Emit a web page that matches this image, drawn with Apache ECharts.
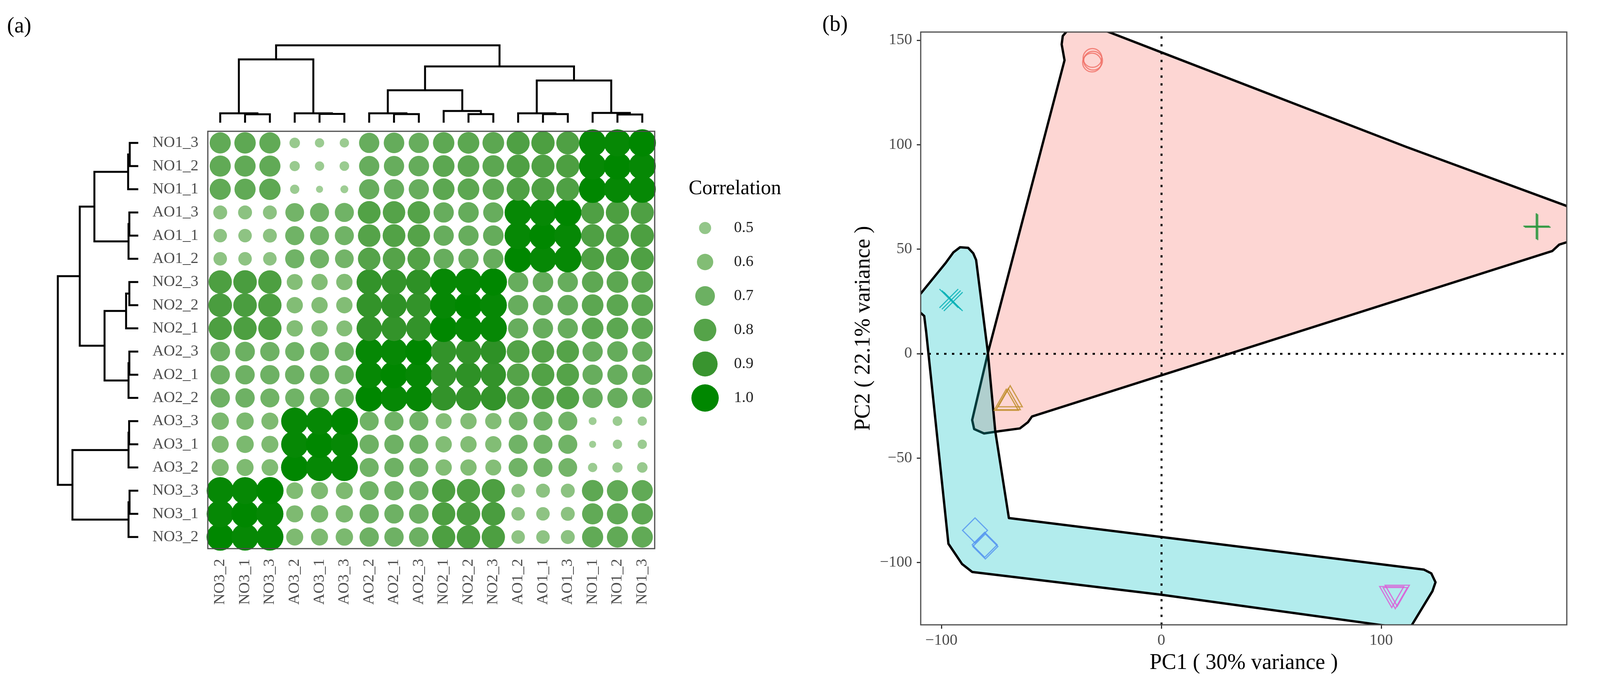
<!DOCTYPE html>
<html>
<head>
<meta charset="utf-8">
<script src="https://cdn.jsdelivr.net/npm/echarts/dist/echarts.min.js"></script>
<style>
html, body { margin: 0; padding: 0; background: #fff; }
#main { width: 4302px; height: 1753px; }
</style>
</head>
<body>
<div id="main"></div>
<script>
var FONT = '"Liberation Serif", "DejaVu Serif", serif';

// sample order: left->right on the x axis, bottom->top on the y axis
var samples = ['NO3_2','NO3_1','NO3_3','AO3_2','AO3_1','AO3_3','AO2_2','AO2_1','AO2_3',
               'NO2_1','NO2_2','NO2_3','AO1_2','AO1_1','AO1_3','NO1_1','NO1_2','NO1_3'];

// correlation matrix, rows/cols in the order of samples
var corr = [
  [1.00,0.99,0.99,0.62,0.62,0.63,0.69,0.69,0.70,0.83,0.84,0.83,0.53,0.53,0.54,0.75,0.75,0.75],
  [0.99,1.00,0.99,0.62,0.63,0.63,0.69,0.69,0.70,0.83,0.84,0.84,0.53,0.53,0.54,0.75,0.75,0.76],
  [0.99,0.99,1.00,0.61,0.62,0.62,0.68,0.69,0.69,0.83,0.83,0.83,0.53,0.54,0.54,0.76,0.75,0.75],
  [0.62,0.62,0.61,1.00,0.99,0.99,0.68,0.69,0.68,0.60,0.60,0.59,0.68,0.68,0.67,0.45,0.465,0.47],
  [0.62,0.63,0.62,0.99,1.00,0.99,0.69,0.69,0.68,0.60,0.60,0.60,0.68,0.68,0.68,0.42,0.45,0.45],
  [0.63,0.63,0.62,0.99,0.99,1.00,0.68,0.68,0.68,0.59,0.60,0.60,0.67,0.68,0.68,0.43,0.455,0.45],
  [0.69,0.69,0.68,0.68,0.69,0.68,1.00,0.99,0.99,0.91,0.91,0.91,0.80,0.80,0.81,0.72,0.72,0.72],
  [0.69,0.69,0.69,0.69,0.69,0.68,0.99,1.00,0.99,0.91,0.92,0.91,0.80,0.81,0.80,0.72,0.72,0.73],
  [0.70,0.70,0.69,0.68,0.68,0.68,0.99,0.99,1.00,0.91,0.91,0.92,0.81,0.80,0.80,0.72,0.73,0.72],
  [0.83,0.83,0.83,0.60,0.60,0.59,0.91,0.91,0.91,1.00,0.99,0.99,0.72,0.72,0.72,0.77,0.77,0.76],
  [0.84,0.84,0.83,0.60,0.60,0.60,0.91,0.92,0.91,0.99,1.00,0.99,0.72,0.72,0.73,0.77,0.77,0.77],
  [0.83,0.84,0.83,0.59,0.60,0.60,0.91,0.91,0.92,0.99,0.99,1.00,0.72,0.73,0.72,0.76,0.77,0.77],
  [0.53,0.53,0.53,0.68,0.68,0.67,0.80,0.80,0.81,0.72,0.72,0.72,1.00,0.99,0.99,0.82,0.82,0.82],
  [0.53,0.53,0.54,0.68,0.68,0.68,0.80,0.81,0.80,0.72,0.72,0.73,0.99,1.00,0.99,0.82,0.82,0.83],
  [0.54,0.54,0.54,0.67,0.68,0.68,0.81,0.80,0.80,0.72,0.73,0.72,0.99,0.99,1.00,0.82,0.83,0.82],
  [0.75,0.75,0.76,0.45,0.42,0.43,0.72,0.72,0.72,0.77,0.77,0.76,0.82,0.82,0.82,1.00,0.99,0.99],
  [0.75,0.75,0.75,0.465,0.45,0.455,0.72,0.72,0.73,0.77,0.77,0.77,0.82,0.82,0.83,0.99,1.00,0.99],
  [0.75,0.76,0.75,0.47,0.45,0.45,0.72,0.73,0.72,0.76,0.77,0.77,0.82,0.83,0.82,0.99,0.99,1.00]
];

var legendValues = [0.5, 0.6, 0.7, 0.8, 0.9, 1.0];

// clustering tree, hclust style: negative = leaf (-(index+1)), positive = earlier merge (1-based)
var mergeLeft   = [-2, -1, -5, -4, -8, -7, -11, -10, -14, -13, -17, -16,   2,  6,  10,  14,  13];
var mergeRight  = [-3,  1, -6,  3, -9,  5, -12,   7, -15,   9, -18,  11,   4,  8,  12,  15,  16];
var mergeHeight = [21.5, 24, 22.5, 24, 22, 24, 22, 30, 22, 24, 21, 25, 162, 83, 108, 144, 198];

// PCA scores
var groups = ['AO1', 'AO2', 'AO3', 'NO1', 'NO2', 'NO3'];
var pcAO1 = [[-31.3, 141.5], [-31.0, 140.2], [-31.5, 139.3]];
var pcAO2 = [[-68.7, -20.4], [-70.5, -22.1], [-69.6, -21.8]];
var pcAO3 = [[170.5, 61.0], [171.2, 60.5], [170.8, 60.8]];
var pcNO1 = [[-95.5, 25.7], [-96.6, 26.4], [-94.6, 24.9]];
var pcNO2 = [[-84.7, -84.6], [-80.3, -91.5], [-80.0, -92.3]];
var pcNO3 = [[106.4, -117.0], [104.8, -116.5], [107.3, -115.9]];
var pcPoints = [pcAO1, pcAO2, pcAO3, pcNO1, pcNO2, pcNO3];

// group hulls (outline, data units)
var hullAO = [[-44.0,140.4],[-45.3,148.0],[-44.8,152.0],[-42.0,155.5],[-37.0,157.5],[-30.0,156.4],
  [0,144.2],[111.2,99.0],[184.0,70.8],[188.5,67.5],[191.0,62.0],[190.0,57.0],[186.5,54.0],
  [181.0,52.2],[177.8,49.1],[-58.8,-30.1],[-60.6,-32.8],[-64.3,-35.8],[-73.4,-37.1],
  [-80.6,-38.2],[-85.1,-36.1],[-86.0,-31.8],[-78.7,0.9]];
var hullNO = [[-91.5,50.9],[-87.8,50.6],[-85.5,48.0],[-84.2,44.8],[-78.9,0.9],[-75.5,-37.1],
  [-69.3,-78.7],[119.5,-103.4],[122.8,-105.2],[124.7,-109.4],[123.3,-113.7],[114.0,-129.8],
  [111.5,-132.0],[108.0,-131.6],[104.0,-130.5],[0,-115.4],[-86.0,-104.5],[-90.6,-100.7],
  [-96.8,-91.0],[-106.9,10.3],[-107.8,18.0],[-110.5,20.5],[-111.5,24.5],[-110.3,28.0],
  [-109.4,28.7],[-97.9,43.6],[-94.5,48.5]];

var pcXTicks = [-100, 0, 100];
var pcYTicks = [-100, -50, 0, 50, 100, 150];

// ---- styles ----
var corrStops  = [0.4, 0.5, 0.6, 0.7, 0.8, 0.9, 1.0];
var corrColors = ['#a3d099', '#93c689', '#82bd75', '#6cb062', '#55a349', '#39942f', '#008700'];
var groupColors = ['rgba(240,110,100,0.8)', 'rgba(190,140,40,0.8)', 'rgba(40,150,60,0.8)',
                   'rgba(0,175,180,0.8)', 'rgba(80,145,240,0.8)', 'rgba(220,90,215,0.8)'];
var groupSymbols = ['circle', 'triangle', 'path://M0,50L100,50M50,0L50,100',
                    'path://M0,0L100,100M100,0L0,100', 'diamond', 'triangle'];
var groupSizes = [48, [62, 54], 66, 48, 64, [62, 54]];
var groupRotate = [0, 0, 0, 0, 0, 180];
var aoFill = 'rgba(248,118,109,0.3)';
var noFill = 'rgba(0,191,196,0.3)';

function hex2rgb(h) {
  return [parseInt(h.substr(1, 2), 16), parseInt(h.substr(3, 2), 16), parseInt(h.substr(5, 2), 16)];
}
function corrColor(v) {
  var i = 0;
  while (i < corrStops.length - 2 && v > corrStops[i + 1]) i++;
  var t = (v - corrStops[i]) / (corrStops[i + 1] - corrStops[i]);
  t = Math.max(0, Math.min(1, t));
  var a = hex2rgb(corrColors[i]), b = hex2rgb(corrColors[i + 1]);
  return 'rgb(' + [0, 1, 2].map(function (k) { return Math.round(a[k] + (b[k] - a[k]) * t); }).join(',') + ')';
}
// area grows linearly with correlation
function corrSize(v) {
  return Math.sqrt(Math.max(40, 7878 * v - 2978));
}

// tree layout
var nodePos = [];
function childPos(c) { return c < 0 ? -c - 1 : nodePos[c - 1]; }
function childH(c) { return c < 0 ? 0 : mergeHeight[c - 1]; }
mergeLeft.forEach(function (a, i) {
  nodePos[i] = (childPos(a) + childPos(mergeRight[i])) / 2;
});

function dendroItem(horizontal) {
  return function (params, api) {
    var i = params.dataIndex;
    var a = mergeLeft[i], b = mergeRight[i], h = mergeHeight[i];
    var pa = childPos(a), pb = childPos(b), ha = childH(a), hb = childH(b);
    var pts = horizontal
      ? [[ha, pa], [h, pa], [h, pb], [hb, pb]]
      : [[pa, ha], [pa, h], [pb, h], [pb, hb]];
    return {
      type: 'polyline',
      shape: { points: pts.map(function (p) { return api.coord(p); }) },
      style: { stroke: '#000', lineWidth: 5, fill: null }
    };
  };
}

function hullItem(pts, fill) {
  return function (params, api) {
    if (params.dataIndex !== 0) return null;
    return {
      type: 'polygon',
      shape: { points: pts.map(function (p) { return api.coord(p); }) },
      style: { fill: fill, stroke: '#000', lineWidth: 6, lineJoin: 'round' }
    };
  };
}

function minusFmt(v) { return String(v).replace('-', '\u2212'); }

var cells = [];
corr.forEach(function (row, i) {
  row.forEach(function (v, j) { cells.push([j, i, v]); });
});

var chart = echarts.init(document.getElementById('main'));

var series = [
  {
    type: 'scatter', xAxisIndex: 0, yAxisIndex: 0, data: cells, symbol: 'circle',
    symbolSize: function (val) { return corrSize(val[2]); },
    itemStyle: { color: function (p) { return corrColor(p.value[2]); }, opacity: 1 },
    silent: true, z: 2
  },
  {
    type: 'custom', xAxisIndex: 1, yAxisIndex: 1, coordinateSystem: 'cartesian2d',
    data: mergeHeight.map(function (h, i) { return [nodePos[i], h]; }),
    renderItem: dendroItem(false), silent: true
  },
  {
    type: 'custom', xAxisIndex: 2, yAxisIndex: 2, coordinateSystem: 'cartesian2d',
    data: mergeHeight.map(function (h, i) { return [h, nodePos[i]]; }),
    renderItem: dendroItem(true), silent: true
  },
  {
    type: 'scatter', xAxisIndex: 3, yAxisIndex: 3, symbol: 'circle',
    data: legendValues.map(function (v, i) { return [0, i, v]; }),
    symbolSize: function (val) { return corrSize(val[2]); },
    itemStyle: { color: function (p) { return corrColor(p.value[2]); }, opacity: 1 },
    label: {
      show: true, position: 'inside', align: 'left', verticalAlign: 'middle', offset: [74, 0],
      formatter: function (p) { return p.value[2].toFixed(1); },
      fontSize: 40, color: '#222', fontFamily: FONT
    },
    silent: true
  },
  {
    type: 'custom', name: 'AO', xAxisIndex: 4, yAxisIndex: 4, coordinateSystem: 'cartesian2d',
    clip: true, data: hullAO, renderItem: hullItem(hullAO, aoFill), silent: true, z: 2,
    itemStyle: { color: aoFill }
  },
  {
    type: 'custom', name: 'NO', xAxisIndex: 4, yAxisIndex: 4, coordinateSystem: 'cartesian2d',
    clip: true, data: hullNO, renderItem: hullItem(hullNO, noFill), silent: true, z: 2,
    itemStyle: { color: noFill }
  }
];

groups.forEach(function (g, k) {
  var s = {
    type: 'scatter', name: g, xAxisIndex: 4, yAxisIndex: 4, data: pcPoints[k],
    symbol: groupSymbols[k], symbolSize: groupSizes[k], symbolRotate: groupRotate[k],
    itemStyle: { color: 'rgba(0,0,0,0)', borderColor: groupColors[k], borderWidth: 3, opacity: 1 },
    silent: true, z: 5
  };
  if (k === 0) {
    s.markLine = {
      silent: true, symbol: ['none', 'none'], label: { show: false }, animation: false,
      lineStyle: { color: '#000', width: 5, type: [6, 14] },
      data: [{ xAxis: 0 }, { yAxis: 0 }]
    };
  }
  series.push(s);
});

var hidden = { show: false };

var option = {
  animation: false,
  backgroundColor: '#fff',
  textStyle: { fontFamily: FONT },
  grid: [
    { left: 532, top: 336, width: 1144, height: 1068, show: true, z: 10,
      backgroundColor: 'rgba(0,0,0,0)', borderColor: '#4d4d4d', borderWidth: 3 },
    { left: 532, top: 116, width: 1144, height: 198 },
    { left: 148, top: 336, width: 206, height: 1068 },
    { left: 1765, top: 540, width: 80, height: 522 },
    { left: 2357, top: 82, width: 1654, height: 1517, show: true, z: 10,
      backgroundColor: 'rgba(0,0,0,0)', borderColor: '#4d4d4d', borderWidth: 3 }
  ],
  xAxis: [
    { type: 'category', gridIndex: 0, data: samples,
      axisLine: { show: false, onZero: false },
      axisTick: { alignWithLabel: true, length: 12, lineStyle: { color: '#333', width: 3 } },
      axisLabel: { rotate: 90, interval: 0, fontSize: 40, color: '#4d4d4d', margin: 26, fontFamily: FONT },
      splitLine: hidden },
    { type: 'value', gridIndex: 1, min: -0.5, max: 17.5, show: false },
    { type: 'value', gridIndex: 2, min: 0, max: 198, inverse: true, show: false },
    { type: 'value', gridIndex: 3, min: -1, max: 1, show: false },
    { type: 'value', gridIndex: 4, min: -109.4, max: 184.4,
      axisLine: { show: false, onZero: false }, splitLine: hidden,
      axisTick: { show: true, length: 10, customValues: pcXTicks, lineStyle: { color: '#333', width: 3 } },
      axisLabel: { customValues: pcXTicks, formatter: minusFmt, fontSize: 40, color: '#4d4d4d',
                   margin: 20, fontFamily: FONT },
      name: 'PC1 ( 30% variance )', nameLocation: 'middle', nameGap: 70,
      nameTextStyle: { fontSize: 56, color: '#000', fontFamily: FONT } }
  ],
  yAxis: [
    { type: 'category', gridIndex: 0, data: samples,
      axisLine: { show: false, onZero: false },
      axisTick: { alignWithLabel: true, length: 12, lineStyle: { color: '#333', width: 3 } },
      axisLabel: { interval: 0, fontSize: 40, color: '#4d4d4d', margin: 24, fontFamily: FONT },
      splitLine: hidden },
    { type: 'value', gridIndex: 1, min: 0, max: 198, show: false },
    { type: 'value', gridIndex: 2, min: -0.5, max: 17.5, show: false },
    { type: 'category', gridIndex: 3, data: legendValues.map(String), inverse: true, show: false },
    { type: 'value', gridIndex: 4, min: -129.8, max: 153.9,
      axisLine: { show: false, onZero: false }, splitLine: hidden,
      axisTick: { show: true, length: 10, customValues: pcYTicks, lineStyle: { color: '#333', width: 3 } },
      axisLabel: { customValues: pcYTicks, formatter: minusFmt, fontSize: 40, color: '#4d4d4d',
                   margin: 22, fontFamily: FONT },
      name: 'PC2 ( 22.1% variance )', nameLocation: 'middle', nameGap: 118,
      nameTextStyle: { fontSize: 56, color: '#000', fontFamily: FONT } }
  ],
  legend: [
    { orient: 'vertical', left: 4109, top: 450, itemWidth: 60, itemHeight: 60, itemGap: 28,
      selectedMode: false, data: groups,
      itemStyle: { borderWidth: 3 },
      textStyle: { fontFamily: FONT, fontSize: 28, color: '#333', padding: [0, 0, 0, 37] } },
    { orient: 'vertical', left: 4097, top: 1148, itemWidth: 84, itemHeight: 82, itemGap: 6,
      selectedMode: false,
      data: [
        { name: 'AO', icon: 'rect', itemStyle: { color: aoFill, borderColor: '#000', borderWidth: 5 } },
        { name: 'NO', icon: 'rect', itemStyle: { color: noFill, borderColor: '#000', borderWidth: 5 } }
      ],
      textStyle: { fontFamily: FONT, fontSize: 28, color: '#333', padding: [0, 0, 0, 25] } }
  ],
  graphic: [
    { type: 'text', left: 18, top: 40, style: { text: '(a)', font: '56px ' + FONT, fill: '#000' } },
    { type: 'text', left: 2105, top: 36, style: { text: '(b)', font: '56px ' + FONT, fill: '#000' } },
    { type: 'text', x: 1763, y: 483, style: { text: 'Correlation', font: '52px ' + FONT, fill: '#000',
      textVerticalAlign: 'middle' } },
    { type: 'text', x: 4097, y: 386, style: { text: 'group', font: '54px ' + FONT, fill: '#000',
      textVerticalAlign: 'middle' } },
    { type: 'text', x: 4097, y: 1095, style: { text: 'Group', font: '54px ' + FONT, fill: '#000',
      textVerticalAlign: 'middle' } }
  ],
  series: series
};

chart.setOption(option);
</script>
</body>
</html>
